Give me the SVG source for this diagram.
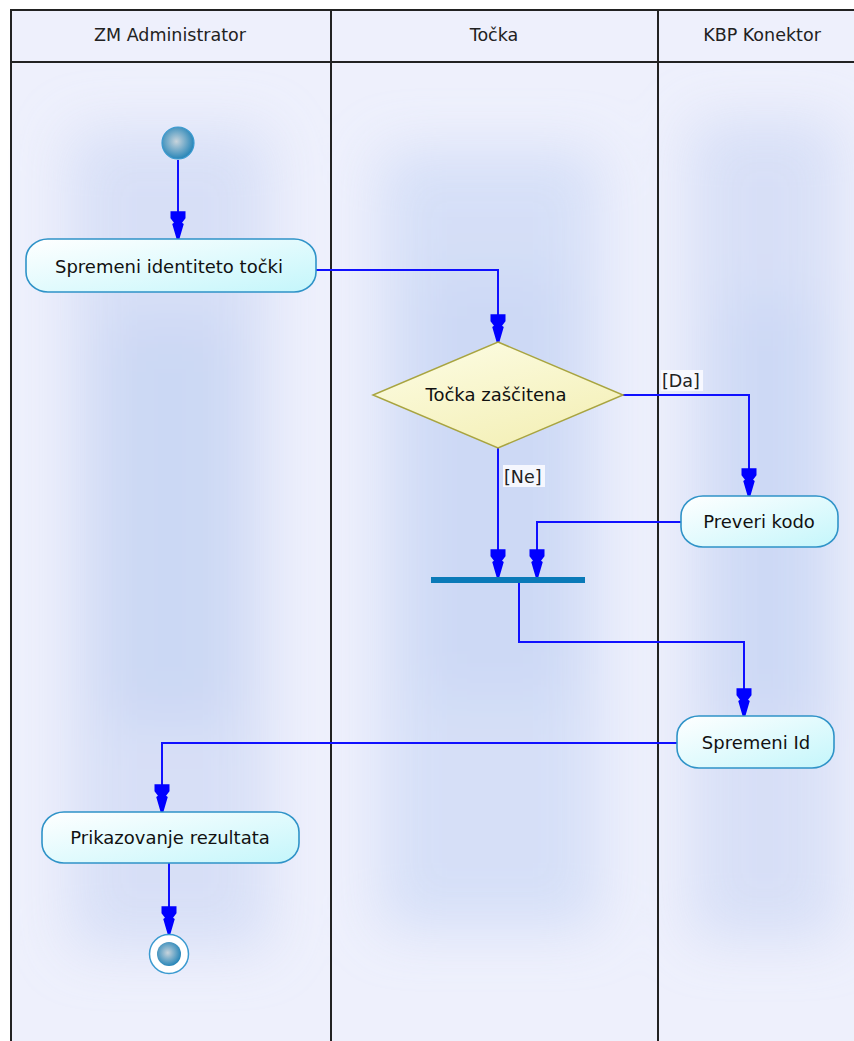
<svg xmlns="http://www.w3.org/2000/svg" width="854" height="1041" viewBox="0 0 854 1041">
<style>
.lane{stroke:#222;stroke-width:2;fill:none}
.hdr{font-family:"DejaVu Sans",sans-serif;font-size:17.5px;fill:#222;text-anchor:middle}
.act{fill:url(#actG);stroke:#2f93c8;stroke-width:1.6}
.txt{font-family:"DejaVu Sans",sans-serif;font-size:18px;fill:#111;text-anchor:middle}
.lbl{font-family:"DejaVu Sans",sans-serif;font-size:17.5px;fill:#222}
.con{fill:none;stroke:#1010ff;stroke-width:2;marker-end:url(#arr)}
.lblbg{fill:#fafaff;opacity:0.9}
</style>
<defs>
<linearGradient id="actG" x1="0" y1="0" x2="1" y2="1">
<stop offset="0" stop-color="#ffffff"/>
<stop offset="1" stop-color="#c4f6fb"/>
</linearGradient>
<linearGradient id="decG" x1="0" y1="0" x2="0.6" y2="1">
<stop offset="0" stop-color="#fdfde6"/>
<stop offset="1" stop-color="#f4f0b8"/>
</linearGradient>
<radialGradient id="ballG" cx="0.45" cy="0.45" r="0.6">
<stop offset="0" stop-color="#c8d4dc"/>
<stop offset="1" stop-color="#1a7fb5"/>
</radialGradient>
<filter id="blur" x="-50%" y="-50%" width="200%" height="200%">
<feGaussianBlur stdDeviation="28"/>
</filter>
<marker id="arr" markerUnits="userSpaceOnUse" markerWidth="30" markerHeight="20" viewBox="-25 -8 26 16" refX="0" refY="0" orient="auto">
<path d="M-24,-6.5 L-18,-6.5 L-14,-3.5 L-13,-5 L0,-1.2 L0,1.2 L-13,5 L-14,3.5 L-18,6.5 L-24,6.5 Z" fill="#0000ff"/>
</marker>
</defs>
<rect x="0" y="0" width="854" height="1041" fill="#ffffff"/>
<g id="swimlanes">
<rect x="11" y="10" width="860" height="1040" fill="#eef0fc"/>
<g filter="url(#blur)" opacity="0.85">
<rect x="70" y="130" width="200" height="820" fill="#d4ddf6"/>
<rect x="105" y="320" width="130" height="400" fill="#c6d4f3"/>
<rect x="380" y="150" width="220" height="780" fill="#d2ddf7"/>
<rect x="420" y="270" width="150" height="430" fill="#c8d6f4"/>
<rect x="690" y="120" width="150" height="820" fill="#d4ddf6"/>
<rect x="720" y="300" width="100" height="420" fill="#c8d6f4"/>
</g>
<rect x="11" y="10" width="860" height="52" fill="#eef0fc"/>
<rect x="11" y="10" width="860" height="1040" class="lane"/>
<line x1="11" y1="62" x2="871" y2="62" class="lane"/>
<line x1="331" y1="10" x2="331" y2="1050" class="lane"/>
<line x1="658" y1="10" x2="658" y2="1050" class="lane"/>
<text x="170" y="41" class="hdr">ZM Administrator</text>
<text x="494" y="41" class="hdr">Točka</text>
<text x="762" y="41" class="hdr">KBP Konektor</text>
</g>
<g id="connectors">
<path class="con" d="M178,160 L178,239"/>
<path class="con" d="M316,270 L498,270 L498,342"/>
<path class="con" d="M623,395 L749,395 L749,496"/>
<path class="con" d="M498,448 L498,577"/>
<path class="con" d="M681,522 L537,522 L537,577"/>
<path class="con" d="M519,583 L519,642 L744,642 L744,716"/>
<path class="con" d="M677,743 L162,743 L162,812"/>
<path class="con" d="M169,863 L169,934"/>
<rect class="lblbg" x="661" y="370" width="42" height="21"/>
<text x="662" y="387" class="lbl">[Da]</text>
<rect class="lblbg" x="503" y="465" width="42" height="22"/>
<text x="504" y="483" class="lbl">[Ne]</text>
</g>
<g id="start">
<circle cx="178" cy="143" r="16" fill="url(#ballG)" stroke="#3a9ad0" stroke-width="1.2"/>
</g>
<g id="spremeni-identiteto">
<rect x="26" y="239" width="290" height="53" rx="22" ry="20" class="act"/>
<text x="169" y="273" class="txt">Spremeni identiteto točki</text>
</g>
<g id="decision">
<polygon points="498,342 623,395 498,448 373,395" fill="url(#decG)" stroke="#a8a440" stroke-width="1.5"/>
<text x="496" y="401" class="txt">Točka zaščitena</text>
</g>
<g id="preveri-kodo">
<rect x="681" y="496" width="157" height="51" rx="22" ry="20" class="act"/>
<text x="759" y="528" class="txt">Preveri kodo</text>
</g>
<g id="join">
<rect x="431" y="577" width="154" height="6" fill="#0a7ab8"/>
</g>
<g id="spremeni-id">
<rect x="677" y="716" width="157" height="52" rx="22" ry="20" class="act"/>
<text x="756" y="749" class="txt">Spremeni Id</text>
</g>
<g id="prikazovanje">
<rect x="42" y="812" width="257" height="51" rx="22" ry="20" class="act"/>
<text x="170" y="844" class="txt">Prikazovanje rezultata</text>
</g>
<g id="end">
<circle cx="169" cy="954" r="19.5" fill="#ffffff" stroke="#3a9ad0" stroke-width="1.5"/>
<circle cx="169" cy="954" r="12" fill="url(#ballG)"/>
</g>
</svg>
